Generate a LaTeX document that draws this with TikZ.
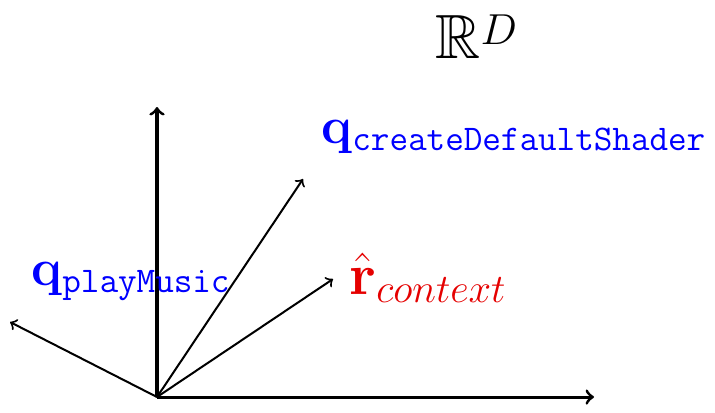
\documentclass[tikz,border=0pt]{standalone}
\usepackage{amssymb}
\begin{document}
\begin{tikzpicture}[x=0.014cm,y=-0.014cm,>=to,
    axis/.style={->,very thick},
    vec/.style={->,thick},
    lbl/.style={anchor=base west,inner sep=0pt,font=\huge}]
  \useasboundingbox (0,0) rectangle (715,412);

  % axes
  \coordinate (o) at (157,397);
  \coordinate (yend) at (157,107);
  \coordinate (xend) at (594,397);
  \draw[axis] (o) -- (yend);
  \draw[axis] (o) -- (xend);

  % vectors
  \coordinate (play) at (10,322);
  \coordinate (shader) at (303,179);
  \coordinate (ctx) at (333,279);
  \draw[vec] (o) -- (play);
  \draw[vec] (o) -- (shader);
  \draw[vec] (o) -- (ctx);

  % labels
  \node[lbl,scale=1.2] (space) at (435,58) {$\mathbb{R}^{\raisebox{-3pt}{$\scriptstyle D$}}$};
  \node[lbl,text=blue] (qplay) at (31,285) {$\mathbf{q}_{\mathtt{playMusic}}$};
  \node[lbl,text=blue] (qshader) at (321,143) {$\mathbf{q}_{\mathtt{createDefaultShader}}$};
  \node[lbl,text=red!90!black,scale=1.12] (rctx) at (349,294) {$\hat{\mathbf{r}}_{context}$};
\end{tikzpicture}
\end{document}
